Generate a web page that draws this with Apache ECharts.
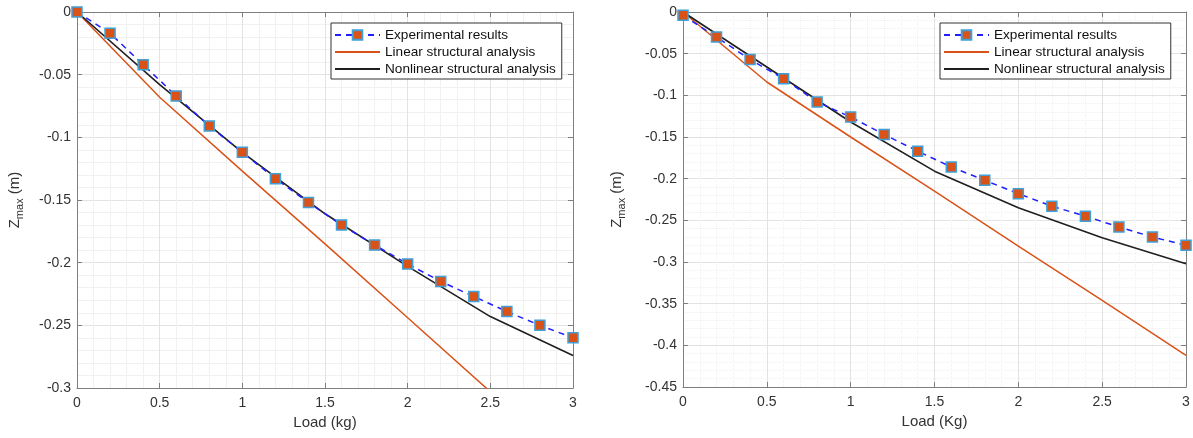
<!DOCTYPE html>
<html>
<head>
<meta charset="utf-8">
<script src="https://cdn.jsdelivr.net/npm/echarts@6/dist/echarts.min.js"></script>
<style>
html,body{margin:0;padding:0;background:#fff;}
#c{width:1193px;height:438px;}
</style>
</head>
<body>
<div id="c"></div>
<script>
// ---- data ----
const seriesNames = ['Experimental results', 'Linear structural analysis', 'Nonlinear structural analysis'];
const expLoads = [0, 0.2, 0.4, 0.6, 0.8, 1.0, 1.2, 1.4, 1.6, 1.8, 2.0, 2.2, 2.4, 2.6, 2.8, 3.0];
const anaLoads = [0, 0.5, 1.0, 1.5, 2.0, 2.5, 3.0];

// left panel
const expLeft = [0, -0.017, -0.042, -0.067, -0.091, -0.112, -0.133, -0.152, -0.170, -0.186, -0.201, -0.215, -0.227, -0.239, -0.250, -0.260];
const linLeft = [0, -0.068, -0.127, -0.185, -0.244, -0.303, -0.361];
const nonLeft = [0, -0.058, -0.112, -0.161, -0.203, -0.243, -0.274];

// right panel
const expRight = [-0.004, -0.030, -0.057, -0.080, -0.108, -0.126, -0.147, -0.167, -0.186, -0.202, -0.218, -0.233, -0.245, -0.258, -0.270, -0.280];
const linRight = [0, -0.084, -0.150, -0.215, -0.281, -0.346, -0.412];
const nonRight = [0, -0.066, -0.132, -0.191, -0.235, -0.271, -0.302];

const xTitles = ['Load (kg)', 'Load (Kg)'];
const yMins = [-0.3, -0.45];

// ---- styles ----
const FONT = '"Liberation Sans", Arial, Helvetica, sans-serif';
const AXIS_COL = '#7f7f7f';
const LABEL_COL = '#333333';
const pair = (xs, ys) => xs.map((x, i) => [x, ys[i]]);

const grids = [
  {left: 77, top: 12, width: 496, height: 376},
  {left: 683, top: 12, width: 503, height: 375}
];

const xAxes = [], yAxes = [];
[0, 1].forEach(g => {
  const minorType = g === 0 ? 'solid' : 'dotted';
  xAxes.push({
    type: 'value', gridIndex: g, min: 0, max: 3, interval: 0.5,
    position: 'bottom',
    name: xTitles[g], nameLocation: 'middle', nameGap: 27,
    nameTextStyle: {fontFamily: FONT, fontSize: 15, color: LABEL_COL},
    axisLine: {show: true, onZero: false, lineStyle: {color: AXIS_COL, width: 1}},
    axisTick: {show: true, inside: true, length: 5, lineStyle: {color: AXIS_COL}},
    axisLabel: {fontFamily: FONT, fontSize: 14, color: LABEL_COL, margin: 8},
    splitLine: {show: true, lineStyle: {color: '#e3e3e3', width: 1}},
    minorTick: {show: false, splitNumber: 5},
    minorSplitLine: {show: true, lineStyle: {color: '#f1f1f1', width: 1, type: minorType}}
  });
  xAxes.push({
    type: 'value', gridIndex: g, min: 0, max: 3, interval: 0.5, position: 'top',
    axisLine: {show: true, onZero: false, lineStyle: {color: AXIS_COL, width: 1}},
    axisTick: {show: true, inside: true, length: 5, lineStyle: {color: AXIS_COL}},
    axisLabel: {show: false}, splitLine: {show: false}
  });
  yAxes.push({
    type: 'value', gridIndex: g, min: yMins[g], max: 0, interval: 0.05,
    position: 'left',
    name: '{z|Z}{s|max}{z| (m)}', nameLocation: 'middle', nameRotate: 90,
    nameGap: g === 0 ? 52 : 56,
    nameTextStyle: {
      fontFamily: FONT, color: LABEL_COL,
      rich: {
        z: {fontFamily: FONT, fontSize: 15, color: LABEL_COL, lineHeight: 20, verticalAlign: 'middle'},
        s: {fontFamily: FONT, fontSize: 11, color: LABEL_COL, lineHeight: 11, verticalAlign: 'bottom'}
      }
    },
    axisLine: {show: true, onZero: false, lineStyle: {color: AXIS_COL, width: 1}},
    axisTick: {show: true, inside: true, length: 5, lineStyle: {color: AXIS_COL}},
    axisLabel: {fontFamily: FONT, fontSize: 14, color: LABEL_COL, margin: 6},
    splitLine: {show: true, lineStyle: {color: '#e3e3e3', width: 1}},
    minorTick: {show: false, splitNumber: 5},
    minorSplitLine: {show: true, lineStyle: {color: '#f1f1f1', width: 1, type: minorType}}
  });
  yAxes.push({
    type: 'value', gridIndex: g, min: yMins[g], max: 0, interval: 0.05, position: 'right',
    axisLine: {show: true, onZero: false, lineStyle: {color: AXIS_COL, width: 1}},
    axisTick: {show: true, inside: true, length: 5, lineStyle: {color: AXIS_COL}},
    axisLabel: {show: false}, splitLine: {show: false}
  });
});

const panelData = [
  {exp: expLeft, lin: linLeft, non: nonLeft},
  {exp: expRight, lin: linRight, non: nonRight}
];

const series = [];
panelData.forEach((p, g) => {
  const xi = g * 2, yi = g * 2;
  series.push({
    name: seriesNames[1], type: 'line', xAxisIndex: xi, yAxisIndex: yi,
    data: pair(anaLoads, p.lin), showSymbol: false, symbol: 'none', clip: true,
    lineStyle: {color: '#D95319', width: 1.5}, itemStyle: {color: '#D95319'}, z: 3, animation: false
  });
  series.push({
    name: seriesNames[2], type: 'line', xAxisIndex: xi, yAxisIndex: yi,
    data: pair(anaLoads, p.non), showSymbol: false, symbol: 'none', clip: true,
    lineStyle: {color: '#1f1f1f', width: 1.6}, itemStyle: {color: '#1f1f1f'}, z: 4, animation: false
  });
  series.push({
    name: seriesNames[0], type: 'line', xAxisIndex: xi, yAxisIndex: yi,
    data: pair(expLoads, p.exp), symbol: 'rect', symbolSize: 10, clip: false,
    lineStyle: {color: '#1f1fff', width: 1.5, type: [6, 5]},
    itemStyle: {color: '#D95319', borderColor: '#3FA0DA', borderWidth: 1.5},
    z: 5, animation: false
  });
});

const hiddenSym = {color: 'rgba(0,0,0,0)', borderColor: 'rgba(0,0,0,0)', borderWidth: 0};
const legendBase = {
  orient: 'vertical', top: 23, itemWidth: 45, itemHeight: 12, itemGap: 3, itemTextGap: 6,
  padding: [5, 6, 3, 3], backgroundColor: '#ffffff', borderColor: '#333333', borderWidth: 1,
  textStyle: {fontFamily: FONT, fontSize: 13.6, color: '#111111'},
  data: [
    {name: seriesNames[0]},
    {name: seriesNames[1], itemStyle: hiddenSym},
    {name: seriesNames[2], itemStyle: hiddenSym}
  ],
  selectedMode: false
};

const option = {
  animation: false,
  backgroundColor: '#ffffff',
  grid: grids,
  xAxis: xAxes,
  yAxis: yAxes,
  legend: [
    Object.assign({}, legendBase, {left: 331}),
    Object.assign({}, legendBase, {left: 940})
  ],
  series: series
};

const chart = echarts.init(document.getElementById('c'), null, {renderer: 'canvas'});
chart.setOption(option);
</script>
</body>
</html>
